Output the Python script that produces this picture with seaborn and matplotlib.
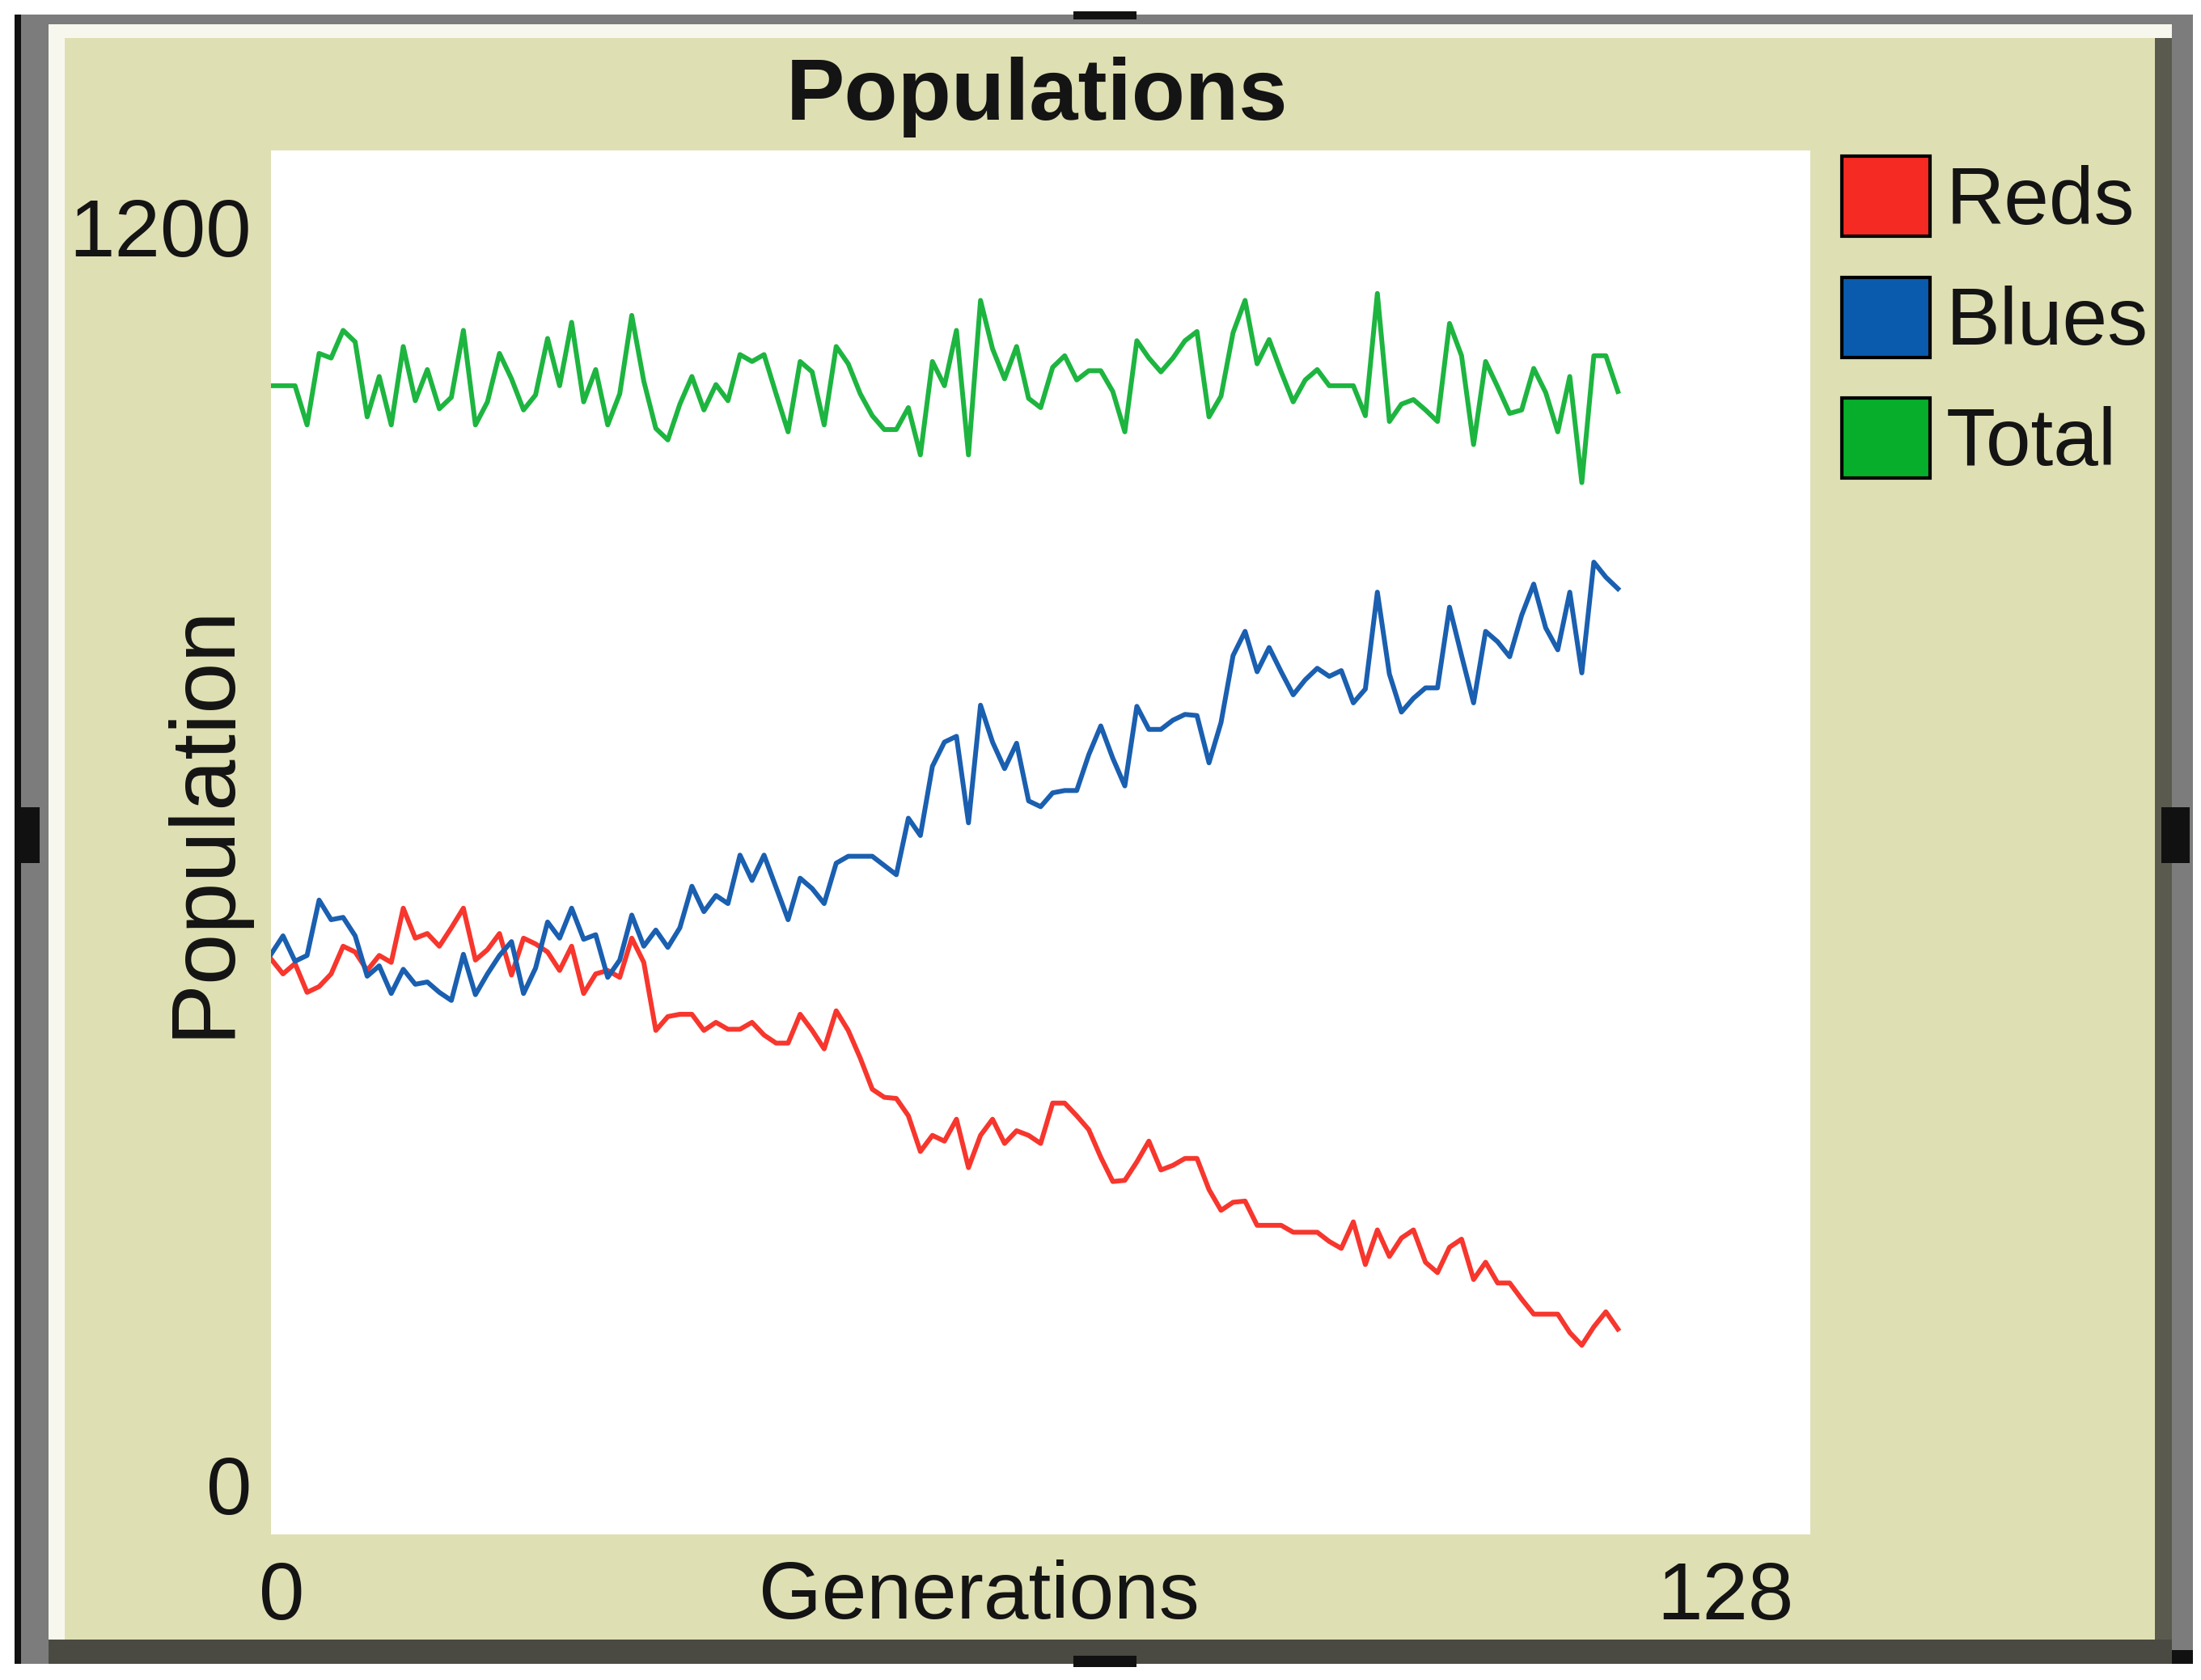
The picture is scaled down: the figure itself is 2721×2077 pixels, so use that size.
import pandas as pd
import matplotlib.pyplot as plt
import seaborn as sns
from matplotlib.patches import Rectangle, Patch

plt.rcParams['font.family'] = ['Liberation Sans', 'DejaVu Sans']

W, H = 2721, 2077

# values, one per generation (0..112)
generations = list(range(113))
reds = [499, 486, 495, 470, 475, 486, 510, 505, 489, 502,
        496, 543, 517, 521, 510, 526, 543, 498, 507, 521,
        485, 517, 512, 505, 489, 510, 469, 486, 489, 483,
        517, 496, 437, 449, 451, 451, 437, 444, 438, 438,
        444, 433, 426, 426, 451, 437, 421, 454, 437, 413,
        386, 379, 378, 363, 332, 346, 341, 360, 318, 346,
        360, 339, 350, 346, 339, 374, 374, 363, 351, 327,
        306, 307, 323, 341, 316, 320, 326, 326, 299, 281,
        288, 289, 268, 268, 268, 262, 262, 262, 254, 248,
        271, 234, 264, 241, 257, 264, 236, 227, 249, 256,
        221, 236, 218, 218, 204, 191, 191, 191, 175, 164,
        180, 193, 178]
blues = [503, 519, 497, 502, 550, 533, 535, 519, 484, 493,
         469, 490, 477, 479, 470, 463, 503, 468, 486, 502,
         514, 469, 491, 531, 517, 543, 516, 520, 483, 498,
         537, 510, 524, 509, 526, 562, 540, 554, 547, 589,
         567, 589, 561, 533, 569, 560, 547, 582, 588, 588,
         588, 580, 572, 621, 606, 666, 687, 692, 617, 719,
         687, 664, 686, 636, 631, 643, 645, 645, 676, 701,
         673, 649, 718, 698, 698, 706, 711, 710, 669, 704,
         762, 783, 748, 769, 748, 728, 741, 751, 744, 749,
         721, 733, 817, 746, 713, 725, 734, 734, 804, 762,
         721, 783, 774, 761, 797, 824, 786, 767, 817, 747,
         843, 830, 820]
total = [996, 996, 996, 962, 1024, 1020, 1044, 1034, 969, 1004,
         962, 1030, 983, 1010, 976, 986, 1044, 962, 982, 1024,
         1002, 975, 988, 1037, 996, 1051, 982, 1010, 962, 989,
         1057, 1000, 959, 949, 980, 1004, 975, 997, 983, 1023,
         1017, 1023, 989, 956, 1017, 1008, 962, 1030, 1015, 989,
         970, 958, 958, 977, 936, 1017, 996, 1044, 936, 1070,
         1028, 1002, 1030, 985, 977, 1012, 1022, 1001, 1009, 1009,
         991, 956, 1035, 1020, 1008, 1020, 1035, 1043, 969, 987,
         1042, 1070, 1015, 1036, 1008, 982, 1001, 1010, 996, 996,
         996, 970, 1076, 965, 980, 984, 975, 965, 1050, 1022,
         945, 1017, 995, 972, 975, 1011, 990, 956, 1004, 912,
         1022, 1022, 991]

pen_names = ['Reds', 'Blues', 'Total']
pen_colors = ['#f52a22', '#0a5bad', '#06ae2c']
line_colors = ['#f7362d', '#1a5fb0', '#1db540']
x_range = [0, 128]
y_range = [0, 1200]

df = pd.DataFrame({
    'gen': generations * 3,
    'count': reds + blues + total,
    'pen': [p for p in pen_names for _ in generations],
})


def fx(x):
    return x / W


def fy(y):
    return 1 - y / H


fig = plt.figure(figsize=(W / 100, H / 100), dpi=100, facecolor='white')


def box(x0, y0, x1, y1, color):
    fig.patches.append(Rectangle((fx(x0), fy(y1)), (x1 - x0) / W, (y1 - y0) / H,
                                 transform=fig.transFigure, facecolor=color,
                                 edgecolor='none', zorder=-10))


# NetLogo widget frame
box(18, 18, 2711, 2057, '#7c7c7c')
box(18, 18, 26, 2057, '#111111')
box(60, 30, 2685, 2027, '#f7f7ee')
box(80, 47, 2664, 2027, '#dfdfb4')
box(2664, 47, 2685, 2057, '#5a5a4e')
box(60, 2027, 2685, 2057, '#4a4a42')
box(2685, 2040, 2711, 2057, '#111111')
# resize handles
box(21, 998, 49, 1067, '#111111')
box(2672, 998, 2707, 1067, '#111111')
box(1327, 14, 1405, 24, '#111111')
box(1327, 2047, 1405, 2061, '#111111')

ax = fig.add_axes([fx(335), fy(1897), (2238 - 335) / W, (1897 - 186) / H])
ax.set_facecolor('white')
sns.lineplot(data=df, x='gen', y='count', hue='pen', hue_order=pen_names,
             palette=dict(zip(pen_names, line_colors)), linewidth=4.3,
             legend=False, sort=False, ax=ax)
ax.set_xlim(x_range)
ax.set_ylim(y_range)
ax.set_xticks([])
ax.set_yticks([])
ax.set_xlabel('')
ax.set_ylabel('')
for s in ax.spines.values():
    s.set_visible(False)

txt = '#141414'
fig.text(fx(1282), fy(148), 'Populations', ha='center', va='baseline',
         fontsize=78, fontweight='bold', color=txt)
fig.text(fx(311), fy(317), str(y_range[1]), ha='right', va='baseline',
         fontsize=73, color=txt)
fig.text(fx(311), fy(1872), str(y_range[0]), ha='right', va='baseline',
         fontsize=73, color=txt)
fig.text(fx(320), fy(2002), str(x_range[0]), ha='left', va='baseline',
         fontsize=73, color=txt)
fig.text(fx(2217), fy(2002), str(x_range[1]), ha='right', va='baseline',
         fontsize=73, color=txt)
fig.text(fx(1210), fy(2001), 'Generations', ha='center', va='baseline',
         fontsize=72, color=txt)
fig.text(fx(282), fy(1014), 'Population', ha='center', va='baseline',
         rotation=90, rotation_mode='anchor', fontsize=82, color=txt)

handles = [Patch(facecolor=c, edgecolor='black', linewidth=3) for c in pen_colors]
fig.legend(handles, pen_names, loc='upper left',
           bbox_to_anchor=(fx(2277), fy(193)), frameon=False,
           fontsize=72, borderpad=0, borderaxespad=0,
           handlelength=1.09, handleheight=1.15, handletextpad=0.2,
           labelspacing=0.45, labelcolor=txt)

fig.savefig('out.png', dpi=100, facecolor='white')
